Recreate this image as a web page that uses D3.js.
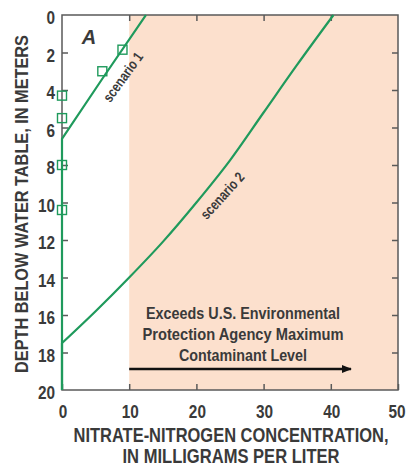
<!DOCTYPE html>
<html>
<head>
<meta charset="utf-8">
<script src="https://cdn.jsdelivr.net/npm/d3@7"></script>
<style>
html,body{margin:0;padding:0;background:#fff;}
svg text{font-family:"Liberation Sans",Arial,sans-serif;fill:#3a3a3a;}
</style>
</head>
<body>
<svg id="chart" width="406" height="466"></svg>
<script>
// ---- data ----
const xTicks = [0, 10, 20, 30, 40, 50];
const yTicks = [0, 2, 4, 6, 8, 10, 12, 14, 16, 18, 20];
const mcl = 10; // EPA maximum contaminant level, mg/L
// scenario 1: nitrate (mg/L) vs depth (m)
const scenario1X = [0, 0, 6.0, 12.5];
const scenario1Y = [20, 6.6, 3.4, 0];
// scenario 2
const scenario2X = [0, 0, 5, 10, 15, 20, 25, 30, 35, 40.4];
const scenario2Y = [20, 17.5, 15.8, 14.0, 12.1, 10.0, 7.75, 5.2, 2.65, 0];
// observed samples
const obsX = [0, 0, 0, 0, 6.0, 9.0];
const obsY = [4.3, 5.5, 8.0, 10.4, 3.0, 1.85];
const annotationLines = ["Exceeds U.S. Environmental", "Protection Agency Maximum", "Contaminant Level"];
const xTitleLines = ["NITRATE-NITROGEN CONCENTRATION,", "IN MILLIGRAMS PER LITER"];
const yTitle = "DEPTH BELOW WATER TABLE, IN METERS";

const svg = d3.select("#chart");
const L = 62, R = 398, T = 15, B = 390;
const x = d3.scaleLinear().domain([0, 50]).range([L, R]);
const y = d3.scaleLinear().domain([0, 20]).range([T, B]);
const green = "#1f9a5c", axisCol = "#5a5a5a";

// condense text horizontally (reference uses a condensed face)
function condense(sel, f) {
  sel.each(function () {
    const w = this.getComputedTextLength();
    d3.select(this).attr("textLength", w * f).attr("lengthAdjust", "spacingAndGlyphs");
  });
}
function fitWidth(sel, widths) {
  sel.attr("textLength", (d, i) => widths[i]).attr("lengthAdjust", "spacingAndGlyphs");
}

// shaded region
svg.append("rect").attr("x", x(mcl)).attr("y", y(0))
  .attr("width", x(50) - x(mcl)).attr("height", y(20) - y(0))
  .attr("fill", "#fce0cd");

// axes with inward ticks
const tl = 6;
svg.append("g").attr("transform", `translate(0,${B})`)
  .call(d3.axisBottom(x).tickValues(xTicks).tickSizeInner(-tl).tickSizeOuter(0).tickFormat(""))
  .call(g => g.select(".domain").remove());
svg.append("g").attr("transform", `translate(0,${T})`)
  .call(d3.axisTop(x).tickValues(xTicks.slice(1, -1)).tickSizeInner(-tl).tickSizeOuter(0).tickFormat(""))
  .call(g => g.select(".domain").remove());
svg.append("g").attr("transform", `translate(${L},0)`)
  .call(d3.axisLeft(y).tickValues(yTicks.slice(1, -1)).tickSizeInner(-tl).tickSizeOuter(0).tickFormat(""))
  .call(g => g.select(".domain").remove());
svg.append("g").attr("transform", `translate(${R},0)`)
  .call(d3.axisRight(y).tickValues(yTicks.slice(1, -1)).tickSizeInner(-tl).tickSizeOuter(0).tickFormat(""))
  .call(g => g.select(".domain").remove());
svg.selectAll(".tick line").attr("stroke", axisCol).attr("stroke-width", 1.5);

// frame
svg.append("rect").attr("x", L).attr("y", T).attr("width", R - L).attr("height", B - T)
  .attr("fill", "none").attr("stroke", axisCol).attr("stroke-width", 1.5);

// tick labels
svg.append("g").selectAll("text").data(xTicks).join("text")
  .attr("x", d => x(d) + (d === 50 ? -1 : 1)).attr("y", B + 28).attr("text-anchor", "middle")
  .attr("font-size", 18.5).attr("font-weight", "bold").text(d => d).call(condense, 0.83);
svg.append("g").selectAll("text").data(yTicks).join("text")
  .attr("x", L - 7).attr("y", d => y(d) + 9).attr("text-anchor", "end")
  .attr("font-size", 18.5).attr("font-weight", "bold").text(d => d).call(condense, 0.83);

// lines
const line = d3.line().x(d => x(d[0])).y(d => y(d[1]));
const s1 = scenario1X.map((v, i) => [v, scenario1Y[i]]);
const s2 = scenario2X.map((v, i) => [v, scenario2Y[i]]);
svg.append("path").attr("d", line.curve(d3.curveLinear)(s1.slice(0, 2)) + line.curve(d3.curveMonotoneX)(s1.slice(1)).replace(/^M/, "L"))
  .attr("fill", "none").attr("stroke", green).attr("stroke-width", 2.2);
svg.append("path").attr("d", line.curve(d3.curveLinear)(s2.slice(0, 2)) + line.curve(d3.curveMonotoneX)(s2.slice(1)).replace(/^M/, "L"))
  .attr("fill", "none").attr("stroke", green).attr("stroke-width", 2.2);

// squares
const sq = 9;
svg.append("g").selectAll("rect").data(obsX.map((v, i) => [v, obsY[i]])).join("rect")
  .attr("x", d => x(d[0]) - sq / 2).attr("y", d => y(d[1]) - sq / 2)
  .attr("width", sq).attr("height", sq).attr("fill", "none")
  .attr("stroke", green).attr("stroke-width", 1.4);

// labels on lines
svg.append("text").attr("transform", "translate(127,80) rotate(-54)")
  .attr("text-anchor", "middle").attr("font-size", 14.5).attr("font-weight", "bold")
  .attr("fill", "#4a4a4a").text("scenario 1").call(condense, 0.8);
svg.append("text").attr("transform", "translate(226,199) rotate(-48)")
  .attr("text-anchor", "middle").attr("font-size", 14.5).attr("font-weight", "bold")
  .attr("fill", "#4a4a4a").text("scenario 2").call(condense, 0.8);

// panel letter
svg.append("text").attr("x", 89).attr("y", 44).attr("text-anchor", "middle")
  .attr("font-size", 20).attr("font-weight", "bold").attr("font-style", "italic")
  .attr("fill", "#222").text("A");

// annotation
svg.append("g").selectAll("text").data(annotationLines).join("text")
  .attr("x", 243).attr("y", (d, i) => 319 + i * 21).attr("text-anchor", "middle")
  .attr("font-size", 16.5).attr("font-weight", "bold").text(d => d)
  .call(fitWidth, [194, 201, 128]);
svg.append("defs").append("marker").attr("id", "arr").attr("viewBox", "0 0 10 10")
  .attr("refX", 9).attr("refY", 5).attr("markerWidth", 4).attr("markerHeight", 4)
  .attr("orient", "auto").attr("markerUnits", "strokeWidth")
  .append("path").attr("d", "M0,1 L10,5 L0,9 Z").attr("fill", "#111");
svg.append("line").attr("x1", x(mcl)).attr("x2", x(43)).attr("y1", 369).attr("y2", 369)
  .attr("stroke", "#111").attr("stroke-width", 2.5).attr("marker-end", "url(#arr)");

// axis titles
svg.append("g").selectAll("text").data(xTitleLines).join("text")
  .attr("x", 231).attr("y", (d, i) => 441.5 + i * 21.5).attr("text-anchor", "middle")
  .attr("font-size", 19.5).attr("font-weight", "bold").text(d => d)
  .call(fitWidth, [315, 217]);
svg.append("text").attr("transform", "translate(28,204) rotate(-90)").attr("text-anchor", "middle")
  .attr("font-size", 19).attr("font-weight", "bold").text(yTitle)
  .attr("textLength", 338).attr("lengthAdjust", "spacingAndGlyphs");
</script>
</body>
</html>
